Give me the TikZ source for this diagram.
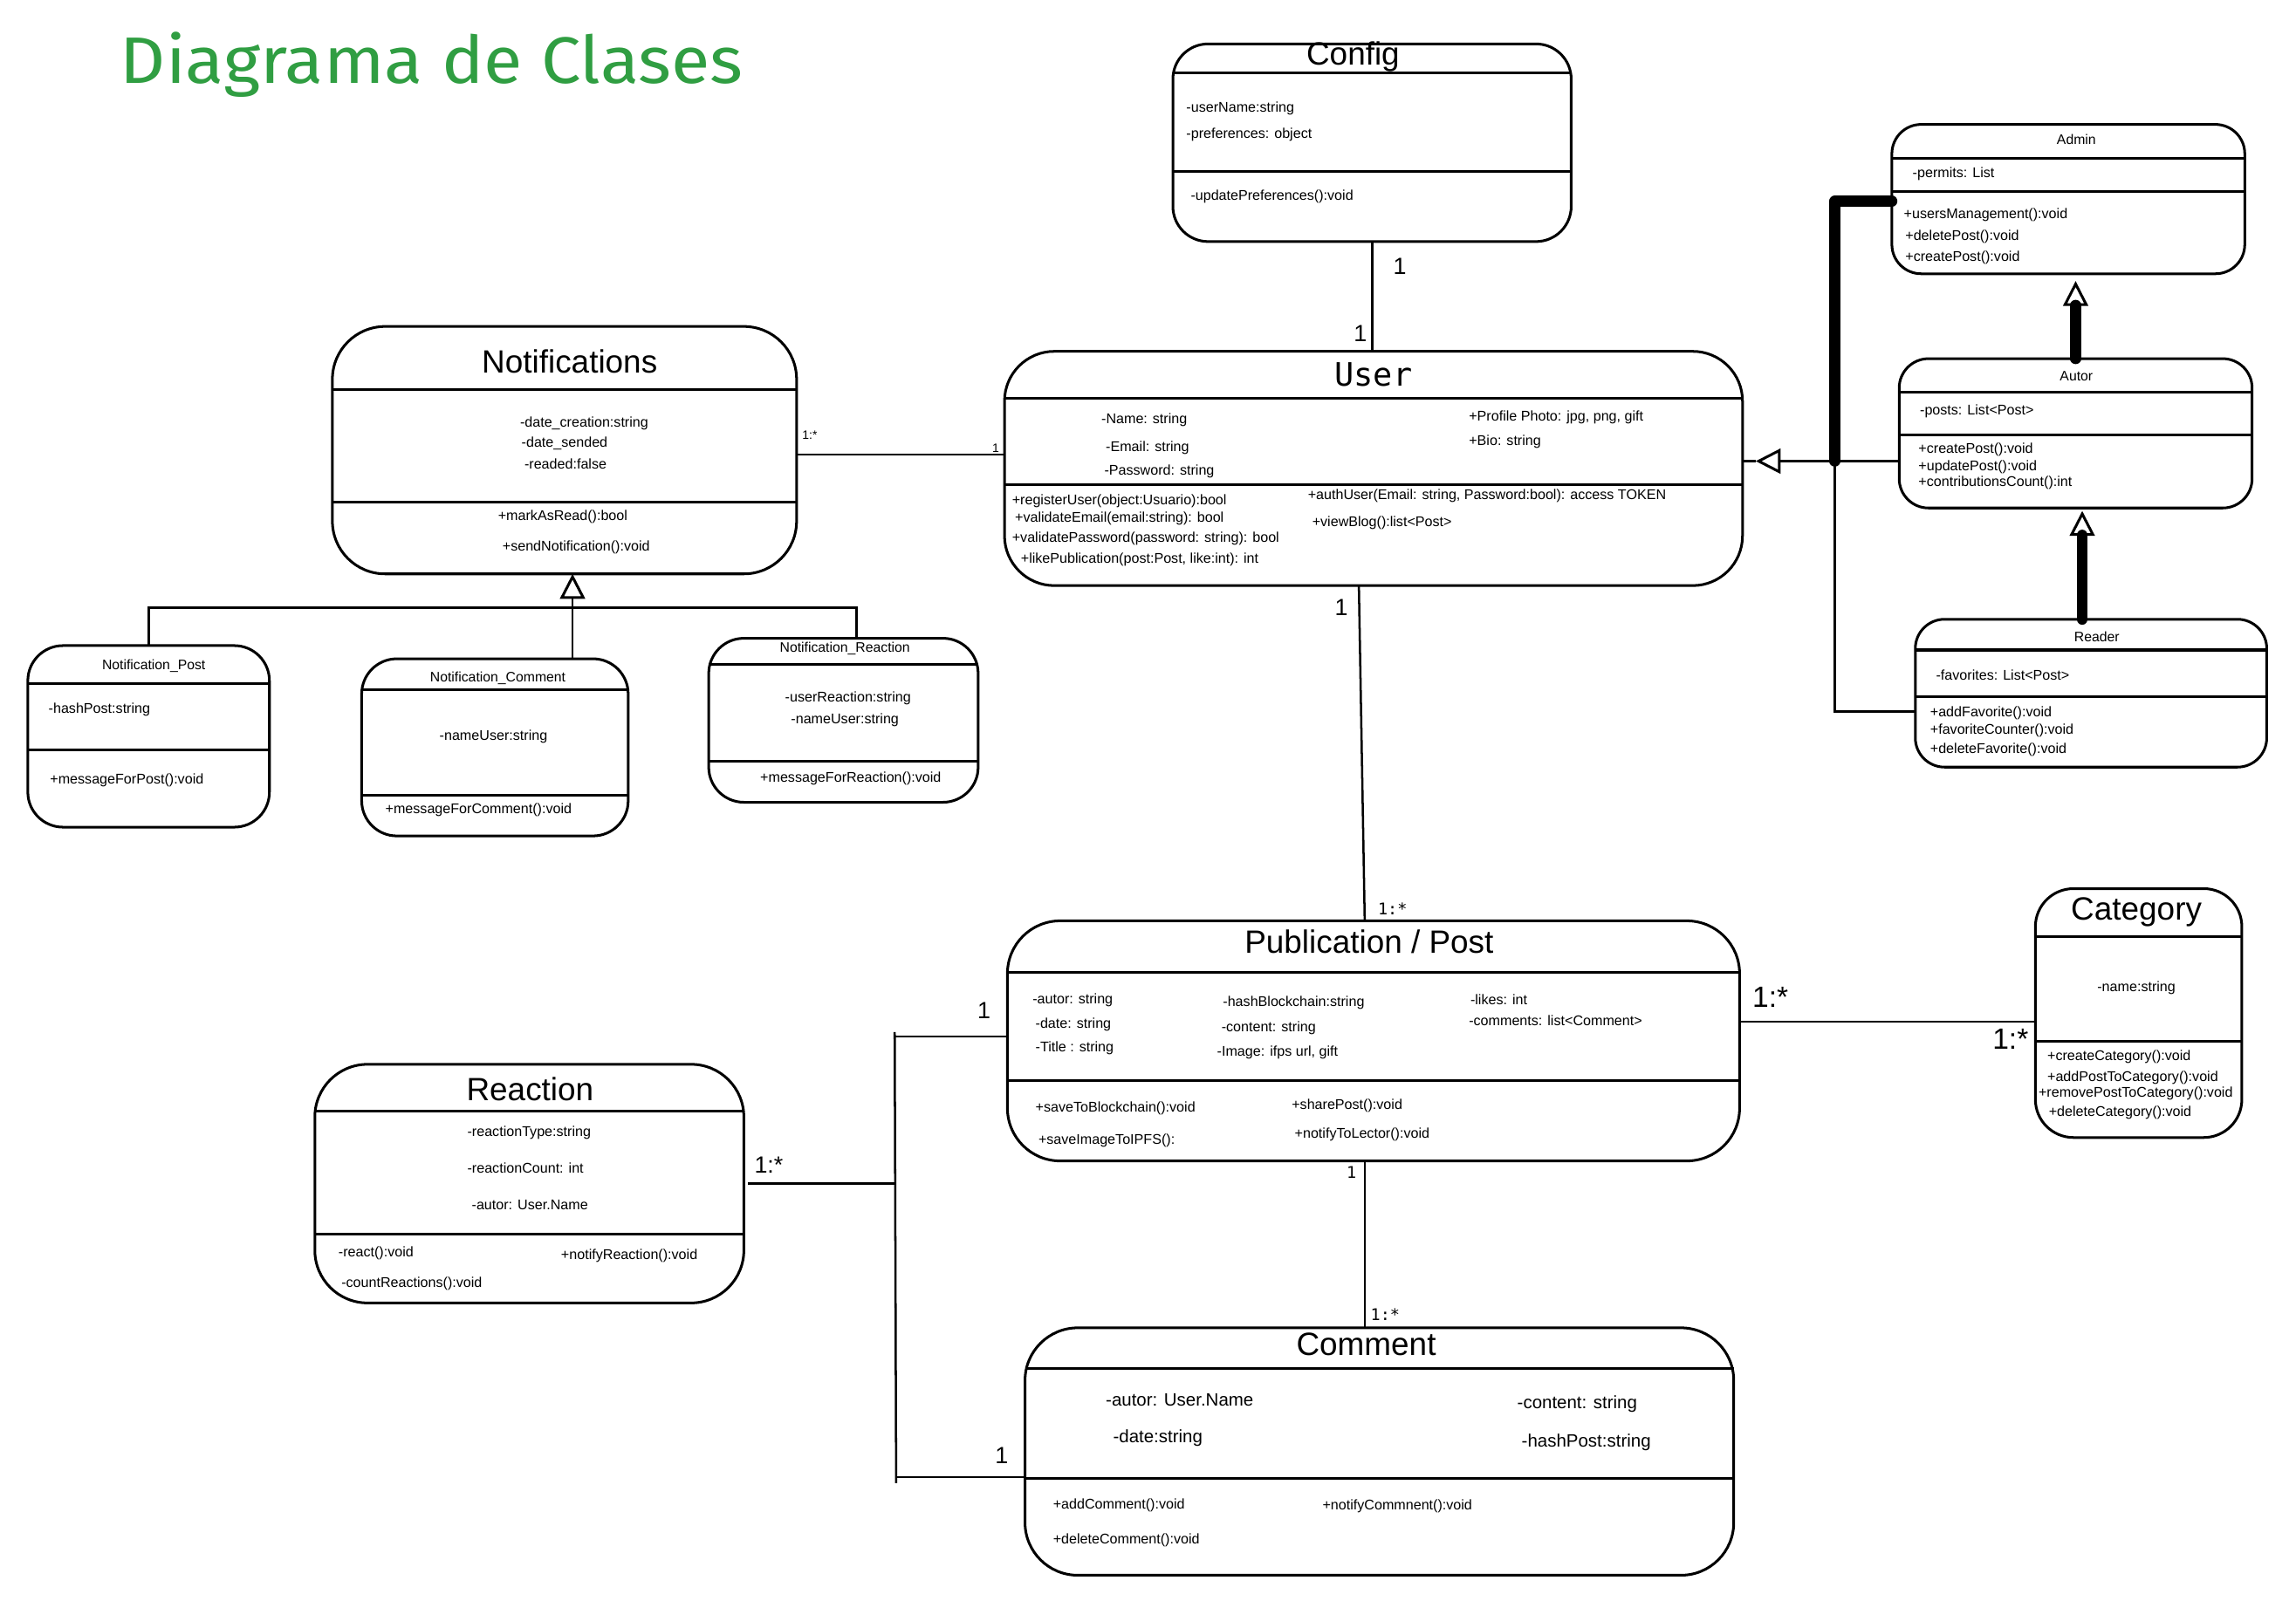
\documentclass[tikz,border=0pt]{standalone}
\usepackage{fontspec}
\setmainfont{Liberation Sans}
\newfontfamily\monof{DejaVu Sans Mono}
\newfontfamily\titlef{Fira Sans}
\usepackage{graphicx}
\usetikzlibrary{arrows.meta,calc}
\definecolor{titlegreen}{RGB}{48,158,66}
\tikzset{
  box/.style={draw, line width=1.8pt, inner sep=0pt, outer sep=0pt},
  sepl/.style={line width=1.8pt},
  conn/.style={line width=1.5pt},
  thickconn/.style={line width=7.5pt, line cap=round, line join=round},
  tx/.style={font=\fontsize{9.6}{11}\selectfont, anchor=west, inner sep=0pt},
  txc/.style={tx, anchor=center},
  txl/.style={font=\fontsize{12.2}{14}\selectfont, anchor=west, inner sep=0pt},
  ttl/.style={font=\fontsize{22}{24}\selectfont, inner sep=0pt},
  stl/.style={font=\fontsize{9.4}{11}\selectfont, inner sep=0pt},
  lbl/.style={inner sep=0pt},
  gen/.style={-{Triangle[open, length=17pt, width=17pt, line width=1.8pt]}},
}
\newcommand\ubox[6]{\node[box, rounded corners=#6pt, minimum width={(#4-#2)*1pt}, minimum height={(#5-#3)*1pt}] (#1) at ({(#2+#4)/2},{(#3+#5)/2}) {};}
\newcommand\hsep[2]{\draw[sepl] (#1.west |- 0,#2) -- (#1.east |- 0,#2);}
\begin{document}
\begin{tikzpicture}[x=1pt,y=-1pt]
\useasboundingbox (0,0) rectangle (1568,1093.6);

% Title
\node[anchor=base west, inner sep=0pt, text=titlegreen] (title) at (82,57) {\resizebox{425pt}{35pt}{\titlef Diagrama de Clases}};

% Config
\ubox{config}{801}{30}{1073}{165}{24}
\hsep{config}{50}
\hsep{config}{117}
\node[ttl] (configT) at (924,39) {Config};
\node[tx] (config1) at (810,74) {-userName:string};
\node[tx] (config2) at (810,92) {-preferences: object};
\node[tx] (config3) at (813,134) {-updatePreferences():void};

% Notifications
\ubox{notif}{227}{223}{544}{392}{36}
\hsep{notif}{266}
\hsep{notif}{343}
\node[ttl] (notifT) at (389,247) {Notifications};
\node[tx] (notif1) at (355,289) {-date\_creation:string};
\node[tx] (notif2) at (356,303) {-date\_sended};
\node[tx] (notif3) at (358,317) {-readed:false};
\node[tx] (notif4) at (340,353) {+markAsRead():bool};
\node[tx] (notif5) at (343,374) {+sendNotification():void};

% Notification_Post
\ubox{npost}{19}{441}{184}{565}{24}
\hsep{npost}{467}
\hsep{npost}{512}
\node[stl] (npostT) at (105,455) {Notification\_Post};
\node[tx] (npost1) at (33,485) {-hashPost:string};
\node[tx] (npost2) at (34,533) {+messageForPost():void};

% Notification_Comment
\ubox{ncom}{247}{450}{429}{571}{24}
\hsep{ncom}{471}
\hsep{ncom}{543}
\node[stl] (ncomT) at (340,463) {Notification\_Comment};
\node[tx] (ncom1) at (300,503) {-nameUser:string};
\node[tx] (ncom2) at (263,553) {+messageForComment():void};

% Notification_Reaction
\ubox{nreac}{484}{436}{668}{548}{24}
\hsep{nreac}{454}
\hsep{nreac}{520}
\node[stl] (nreacT) at (577,443) {Notification\_Reaction};
\node[tx] (nreac1) at (536,477) {-userReaction:string};
\node[tx] (nreac2) at (540,492) {-nameUser:string};
\node[tx] (nreac3) at (519,532) {+messageForReaction():void};

% generalisation of notifications
\coordinate (nbar) at (391,415);
\coordinate (nrtop) at ([xshift=9pt]nreac.north);
\draw[conn] (npost.north) -- (npost.north |- nbar) -- (nbar -| nrtop) -- (nrtop);
\draw[conn, gen] (ncom.north -| nbar) -- (notif.south -| nbar);

% User
\ubox{user}{686}{240}{1190}{400}{34}
\hsep{user}{272}
\hsep{user}{331}
\node[ttl, font=\monof\fontsize{22}{24}\selectfont] (userT) at (938,256) {User};
\node[tx] (user1) at (752,287) {-Name: string};
\node[tx] (user2) at (755,306) {-Email: string};
\node[tx] (user3) at (754,322) {-Password: string};
\node[tx] (user4) at (1003,285) {+Profile Photo: jpg, png, gift};
\node[tx] (user5) at (1003,302) {+Bio: string};
\node[tx] (user6) at (691,342) {+registerUser(object:Usuario):bool};
\node[tx] (user7) at (693,354) {+validateEmail(email:string): bool};
\node[tx] (user8) at (691,368) {+validatePassword(password: string): bool};
\node[tx] (user9) at (697,382) {+likePublication(post:Post, like:int): int};
\node[tx] (user10) at (893,339) {+authUser(Email: string, Password:bool): access TOKEN};
\node[tx] (user11) at (896,357) {+viewBlog():list<Post>};

% Admin
\ubox{admin}{1292}{85}{1533}{187}{20}
\hsep{admin}{108}
\hsep{admin}{131}
\node[stl] (adminT) at (1418,95) {Admin};
\node[tx] (admin1) at (1306,119) {-permits: List};
\node[tx] (admin2) at (1300,147) {+usersManagement():void};
\node[tx] (admin3) at (1301,162) {+deletePost():void};
\node[tx] (admin4) at (1301,176) {+createPost():void};

% Autor
\ubox{autor}{1297}{245}{1538}{347}{20}
\hsep{autor}{268}
\hsep{autor}{297}
\node[stl] (autorT) at (1418,257) {Autor};
\node[tx] (autor1) at (1311,281) {-posts: List<Post>};
\node[tx] (autor2) at (1310,307) {+createPost():void};
\node[tx] (autor3) at (1310,319) {+updatePost():void};
\node[tx] (autor4) at (1310,330) {+contributionsCount():int};

% Reader
\ubox{reader}{1308}{423}{1548}{524}{20}
\hsep{reader}{444}
\hsep{reader}{476}
\node[stl] (readerT) at (1432,435) {Reader};
\node[tx] (reader1) at (1322,461) {-favorites: List<Post>};
\node[tx] (reader2) at (1318,487) {+addFavorite():void};
\node[tx] (reader3) at (1318,499) {+favoriteCounter():void};
\node[tx] (reader4) at (1318,512) {+deleteFavorite():void};

% User generalisation tree
\coordinate (gj) at (1253,315);
\draw[thickconn] (gj) |- ([yshift=-1.5pt]admin.west);
\draw[conn] (gj) |- ([yshift=-12.5pt]reader.west);
\draw[conn, gen, shorten >=9pt] (autor.west |- gj) -- (user.east |- gj);
\draw[conn] (user.east |- gj) -- ++(9,0);
\draw[thickconn, gen, shorten >=5pt] (autor.north) -- (autor.north |- admin.south);
\draw[thickconn, gen, shorten >=2pt] ([xshift=-6pt]reader.north) -- ([xshift=-6pt]reader.north |- autor.south);

% Config - User
\draw[conn] (config.south) -- (config.south |- user.north);
\node[lbl, font=\fontsize{16}{17}\selectfont] (l1) at (956,182) {1};
\node[lbl, font=\fontsize{16}{17}\selectfont] (l2) at (929,228) {1};

% Notifications - User
\draw[conn] ([yshift=-3pt]notif.east) -- ([yshift=-3pt]notif.east -| user.west);
\node[lbl, font=\fontsize{8.3}{9}\selectfont] (l3) at (553,297) {1:*};
\node[lbl, font=\fontsize{8.3}{9}\selectfont] (l4) at (680,306) {1};

% Publication / Post
\ubox{pub}{688}{629}{1188}{793}{36}
\hsep{pub}{664}
\hsep{pub}{738}
\node[ttl] (pubT) at (935,643) {Publication / Post};
\node[tx] (pub1) at (705,683) {-autor: string};
\node[tx] (pub2) at (707,700) {-date: string};
\node[tx] (pub3) at (707,716) {-Title : string};
\node[tx] (pub4) at (835,685) {-hashBlockchain:string};
\node[tx] (pub5) at (834,702) {-content: string};
\node[tx] (pub6) at (831,719) {-Image: ifps url, gift};
\node[tx] (pub7) at (1004,683) {-likes: int};
\node[tx] (pub8) at (1003,697) {-comments: list<Comment>};
\node[tx] (pub9) at (707,757) {+saveToBlockchain():void};
\node[tx] (pub10) at (709,779) {+saveImageToIPFS():};
\node[tx] (pub11) at (882,755) {+sharePost():void};
\node[tx] (pub12) at (884,775) {+notifyToLector():void};

% User - Publication
\draw[conn] ([xshift=-10pt]user.south) -- ([xshift=-6pt]pub.north);
\node[lbl, font=\fontsize{16}{17}\selectfont] (l5) at (916,415) {1};
\node[lbl, font=\monof\fontsize{11}{12}\selectfont] (l6) at (951,621) {1:*};

% Category
\ubox{cat}{1390}{607}{1531}{777}{26}
\hsep{cat}{640}
\hsep{cat}{711}
\node[ttl] (catT) at (1459,623) {Category};
\node[txc] (cat1) at (1459,675) {-name:string};
\node[tx] (cat2) at (1398,722) {+createCategory():void};
\node[tx] (cat3) at (1398,736) {+addPostToCategory():void};
\node[tx] (cat4) at (1392,747) {+removePostToCategory():void};
\node[tx] (cat5) at (1399,760) {+deleteCategory():void};

% Publication - Category
\draw[conn] ([yshift=13pt]pub.east) -- ([yshift=13pt]pub.east -| cat.west);
\node[lbl, font=\fontsize{20}{21}\selectfont] (l7) at (1209,681) {1:*};
\node[lbl, font=\fontsize{20}{21}\selectfont] (l8) at (1373,710) {1:*};

% Reaction
\ubox{reac}{215}{727}{508}{890}{36}
\hsep{reac}{759}
\hsep{reac}{843}
\node[ttl] (reacT) at (362,744) {Reaction};
\node[tx] (reac1) at (319,774) {-reactionType:string};
\node[tx] (reac2) at (319,798) {-reactionCount: int};
\node[tx] (reac3) at (322,823) {-autor: User.Name};
\node[tx] (reac4) at (231,856) {-react():void};
\node[tx] (reac5) at (233,877) {-countReactions():void};
\node[tx] (reac6) at (383,858) {+notifyReaction():void};

% Comment
\ubox{com}{700}{907}{1184}{1076}{36}
\hsep{com}{935}
\hsep{com}{1010}
\node[ttl] (comT) at (933,918) {Comment};
\node[txl] (com1) at (755,956) {-autor: User.Name};
\node[txl] (com2) at (760,982) {-date:string};
\node[txl] (com3) at (1036,959) {-content: string};
\node[txl] (com4) at (1039,985) {-hashPost:string};
\node[tx] (com5) at (719,1028) {+addComment():void};
\node[tx] (com6) at (719,1052) {+deleteComment():void};
\node[tx] (com7) at (903,1029) {+notifyCommnent():void};

% Publication - Comment
\draw[conn] ([xshift=-6pt]pub.south) -- ([xshift=-6pt]pub.south |- com.north);
\node[lbl, font=\monof\fontsize{11}{12}\selectfont] (l12) at (923,801) {1};
\node[lbl, font=\monof\fontsize{11}{12}\selectfont] (l13) at (946,898) {1:*};

% Reaction / Publication / Comment bracket
\coordinate (brT) at (611,708);
\coordinate (brB) at (612,1009);
\draw[conn] ([yshift=3pt]brT) -- ([yshift=-4pt]brB);
\draw[conn] (brT) -- (brT -| pub.west);
\draw[conn] (brB) -- (brB -| com.west);
\draw[conn] ([xshift=3pt]reac.east) -- (reac.east -| brT);
\node[lbl, font=\fontsize{16}{17}\selectfont] (l9) at (672,690) {1};
\node[lbl, font=\fontsize{16}{17}\selectfont] (l10) at (525,796) {1:*};
\node[lbl, font=\fontsize{16}{17}\selectfont] (l11) at (684,994) {1};
\end{tikzpicture}
\end{document}
